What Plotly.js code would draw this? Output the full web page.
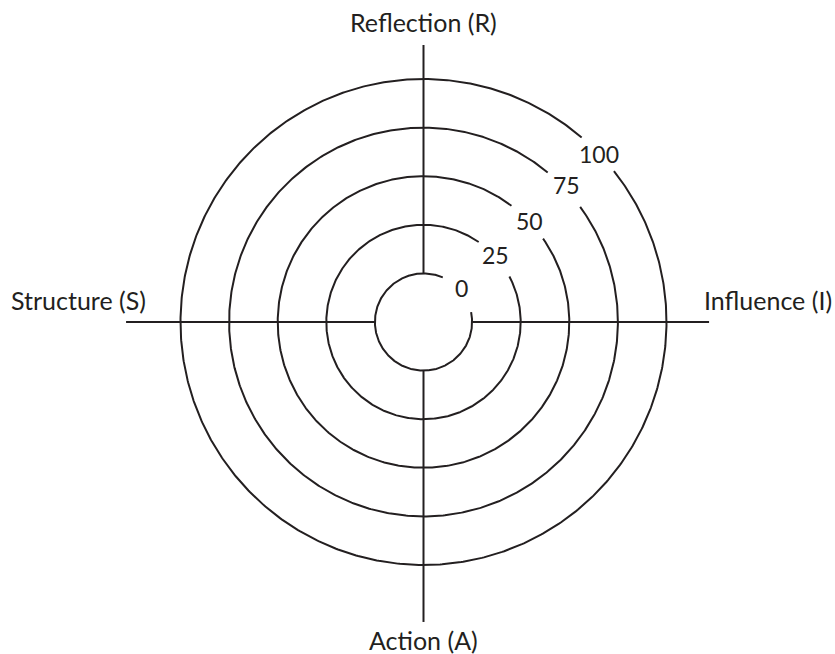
<!DOCTYPE html>
<html>
<head>
<meta charset="utf-8">
<script src="https://cdn.plot.ly/plotly-3.0.1.min.js"></script>
<style>html,body{margin:0;padding:0;background:#fff;}#chart{width:835px;height:654px;}</style>
</head>
<body>
<div id="chart"></div>
<script>
// ---- data ----
const ringValues = [0, 25, 50, 75, 100];
const ringLabels = ['0', '25', '50', '75', '100'];
const axisNames = ['Reflection (R)', 'Influence (I)', 'Action (A)', 'Structure (S)'];
const axisAngles = [90, 0, 270, 180];

// ---- styling / layout helpers ----
const HOLE = 25;                 // inner hole (value units) where the 0 ring sits
const PX = 1.944;                // pixels per value unit
const CX = 423.5, CY = 322;      // centre in pixels
const W = 835, H = 654;
const spokeReach = [117.5, 121.9, 129.3, 128];   // how far each spoke runs past 0
const gapFrom = [11.9, 28, 35.1, 36.5, 38.7];    // label gap in each ring (deg)
const gapTo   = [66.6, 55.4, 52.9, 50.3, 49.4];
const labelAngle = [42, 43, 43.5, 43.8, 43.8];
const labelShift = [2.2, 0.6, 1, 4, 0];          // px outward
const nameX = [423.5, 768, 423.5, 78.5];
const nameY = [22, 300, 640, 300];
const INK = '#231f20';
const FONT = 'Lato, "Open Sans", sans-serif';

const rad = d => d * Math.PI / 180;
const traces = [];

ringValues.forEach((v, i) => {
  const r = v + HOLE;
  const xs = [], ys = [];
  const a0 = gapTo[i], a1 = gapFrom[i] + 360;
  for (let a = a0; a <= a1 + 1e-9; a += 0.5) {
    xs.push(r * Math.cos(rad(a)));
    ys.push(r * Math.sin(rad(a)));
  }
  traces.push({x: xs, y: ys, type: 'scatter', mode: 'lines',
    line: {color: INK, width: 2}, hoverinfo: 'skip', showlegend: false});
});

axisAngles.forEach((ang, i) => {
  const r0 = HOLE, r1 = HOLE + spokeReach[i];
  traces.push({x: [r0 * Math.cos(rad(ang)), r1 * Math.cos(rad(ang))],
    y: [r0 * Math.sin(rad(ang)), r1 * Math.sin(rad(ang))],
    type: 'scatter', mode: 'lines', line: {color: INK, width: 2},
    hoverinfo: 'skip', showlegend: false});
});

const annotations = [];
ringValues.forEach((v, i) => {
  const r = v + HOLE + labelShift[i] / PX;
  annotations.push({x: r * Math.cos(rad(labelAngle[i])), y: r * Math.sin(rad(labelAngle[i])),
    xref: 'x', yref: 'y', text: ringLabels[i], showarrow: false,
    xanchor: 'center', yanchor: 'middle', font: {family: FONT, size: 23, color: INK}});
});
axisNames.forEach((n, i) => {
  annotations.push({x: (nameX[i] - CX) / PX, y: (CY - nameY[i]) / PX,
    xref: 'x', yref: 'y', text: n, showarrow: false,
    xanchor: 'center', yanchor: 'middle', font: {family: FONT, size: 25, color: INK}});
});

const layout = {
  width: W, height: H,
  margin: {l: 0, r: 0, t: 0, b: 0, pad: 0},
  paper_bgcolor: '#fff', plot_bgcolor: '#fff',
  xaxis: {range: [-CX / PX, (W - CX) / PX], visible: false, fixedrange: true},
  yaxis: {range: [-(H - CY) / PX, CY / PX], visible: false, fixedrange: true},
  annotations: annotations,
  showlegend: false
};

Plotly.newPlot('chart', traces, layout, {displayModeBar: false, staticPlot: true});
</script>
</body>
</html>
